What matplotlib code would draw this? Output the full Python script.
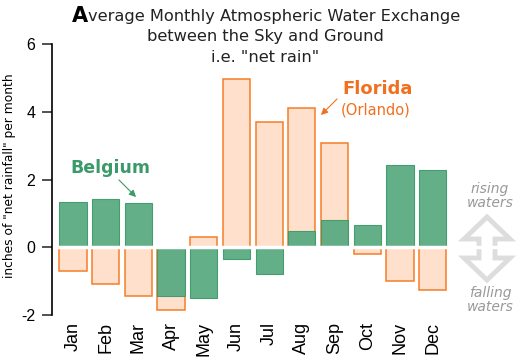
import numpy as np
import matplotlib
matplotlib.use("Agg")
import matplotlib.pyplot as plt
from matplotlib.patches import Polygon

# monthly net rain (inches)
months = ["Jan", "Feb", "Mar", "Apr", "May", "Jun",
          "Jul", "Aug", "Sep", "Oct", "Nov", "Dec"]
belgium = [1.34, 1.42, 1.30, -1.45, -1.49, -0.34,
           -0.78, 0.47, 0.79, 0.67, 2.44, 2.29]
florida = [-0.69, -1.08, -1.43, -1.86, 0.30, 4.96,
           3.70, 4.12, 3.08, -0.20, -1.01, -1.25]
yticks = [-2, 0, 2, 4, 6]

W, H = 526, 357
GREEN = "#5aab82"
GREEN_EDGE = "#3f9b6c"
GREEN_TXT = "#3a9a68"
ORANGE_FILL = "#fee0cc"
ORANGE_EDGE = "#f67d28"
ORANGE_TXT = "#f07020"
GRAY = "#999999"


def px(x, y):
    "pixel position (from top-left) to figure fraction"
    return x / W, 1 - y / H


fig = plt.figure(figsize=(W / 100, H / 100), dpi=100)
ax = fig.add_axes([52 / W, 42 / H, (449 - 52) / W, (315 - 44) / H])

x = np.arange(len(months))
ax.bar(x, florida, width=0.83, color=ORANGE_FILL, edgecolor=ORANGE_EDGE,
       linewidth=1.1, zorder=2)
ax.bar(x, belgium, width=0.83, color=GREEN, edgecolor=GREEN_EDGE,
       linewidth=0.8, alpha=0.95, zorder=3)

# white gap at zero
ax.axhline(0, color="white", linewidth=2.5, zorder=4)

ax.set_xlim(-0.64, 11.5)
ax.set_ylim(-2, 6)
for s in ["top", "right", "bottom"]:
    ax.spines[s].set_visible(False)
ax.spines["left"].set_linewidth(1.2)
ax.spines["left"].set_zorder(5)

ax.set_yticks(yticks)
ax.set_yticklabels([str(v) for v in yticks], fontsize=11.5, family="Liberation Sans")
ax.tick_params(axis="y", length=7, width=1.2, color="#333333", pad=5)
ax.set_xticks(x)
ax.set_xticklabels(months, rotation=90, fontsize=13, family="Liberation Sans")
ax.tick_params(axis="x", length=0, pad=5)

fig.text(*px(10, 176), 'inches of "net rainfall" per month', rotation=90,
         fontsize=8.8, ha="center", va="center", family="DejaVu Sans")

# title with enlarged bold first letter
fig.text(*px(88, 16), "A", fontsize=15, fontweight="bold", ha="right",
         va="center", family="DejaVu Sans")
fig.text(*px(88, 16), "verage Monthly Atmospheric Water Exchange", fontsize=11.7,
         ha="left", va="center", family="DejaVu Sans", color="#222222")
fig.text(*px(265, 37), "between the Sky and Ground", fontsize=11.7,
         ha="center", va="center", family="DejaVu Sans", color="#222222")
fig.text(*px(265, 57), 'i.e. "net rain"', fontsize=11.7,
         ha="center", va="center", family="DejaVu Sans", color="#222222")

# annotations
fig.text(*px(110, 168), "Belgium", fontsize=12.5, fontweight="bold",
         color=GREEN_TXT, ha="center", va="center", family="DejaVu Sans")
ax.annotate("", xy=px(138, 199), xytext=px(117, 178),
            xycoords="figure fraction", textcoords="figure fraction",
            arrowprops=dict(arrowstyle="-|>", color=GREEN_TXT, lw=0.8,
                            mutation_scale=10))
fig.text(*px(342, 89), "Florida", fontsize=13, fontweight="bold",
         color=ORANGE_TXT, ha="left", va="center", family="DejaVu Sans")
fig.text(*px(341, 110), "(Orlando)", fontsize=10.5,
         color=ORANGE_TXT, ha="left", va="center", family="DejaVu Sans")
ax.annotate("", xy=px(319, 117), xytext=px(339, 97),
            xycoords="figure fraction", textcoords="figure fraction",
            arrowprops=dict(arrowstyle="-|>", color=ORANGE_TXT, lw=0.8,
                            mutation_scale=10))

# rising / falling double arrow on the right
fig.text(*px(490, 196), "rising\nwaters", fontsize=10, style="italic",
         color=GRAY, ha="center", va="center", linespacing=1.0,
         family="DejaVu Sans")
fig.text(*px(490, 300), "falling\nwaters", fontsize=10, style="italic",
         color=GRAY, ha="center", va="center", linespacing=1.0,
         family="DejaVu Sans")
cx, top, bot = 487, 217, 280
arrow_pts = [(cx, top), (cx + 23, 239), (cx + 8, 239), (cx + 8, 258),
             (cx + 23, 258), (cx, bot), (cx - 23, 258), (cx - 8, 258),
             (cx - 8, 239), (cx - 23, 239)]
fig.patches.append(Polygon([px(a, b) for a, b in arrow_pts], closed=True,
                           transform=fig.transFigure, facecolor="white",
                           edgecolor="#dddddd", linewidth=3.5,
                           joinstyle="miter"))
fig.lines.append(plt.Line2D([px(460, 0)[0], px(515, 0)[0]],
                            [px(0, 247)[1]] * 2, transform=fig.transFigure,
                            color="white", linewidth=2.5))

fig.savefig("out.png", dpi=100)
